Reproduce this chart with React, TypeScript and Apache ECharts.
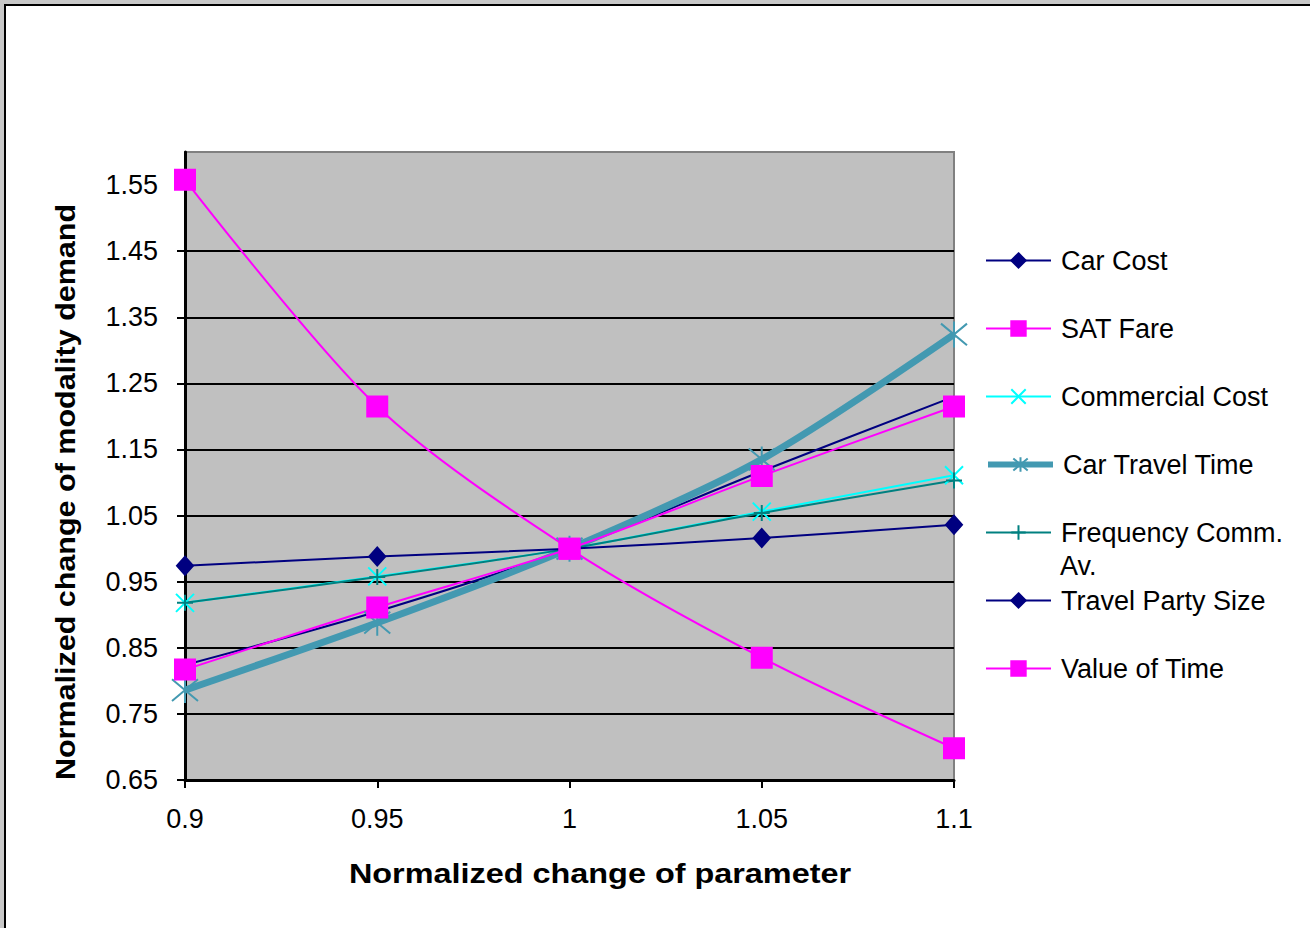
import React, { useEffect, useRef } from "react";
import * as echarts from "echarts";

// Parameter multipliers on the x axis
const params = ["0.9", "0.95", "1", "1.05", "1.1"];
// Y axis tick labels
const yTicks = [0.65, 0.75, 0.85, 0.95, 1.05, 1.15, 1.25, 1.35, 1.45, 1.55];

// Normalized demand for each sensitivity run
const carCost = [0.824, 0.905, 1.0, 1.117, 1.23];
const satFare = [1.558, 1.215, 1.0, 0.835, 0.698];
const commercialCost = [0.918, 0.958, 1.0, 1.056, 1.111];
const carTravelTime = [0.786, 0.888, 1.0, 1.135, 1.324];
const frequencyCommAv = [0.918, 0.957, 1.0, 1.054, 1.103];
const travelPartySize = [0.974, 0.988, 1.0, 1.016, 1.036];
const valueOfTime = [0.817, 0.911, 1.0, 1.11, 1.215];

const seriesNames = [
  "Car Cost",
  "SAT Fare",
  "Commercial Cost",
  "Car Travel Time",
  "Frequency Comm. Av.",
  "Travel Party Size",
  "Value of Time",
];

const FONT = "'Liberation Sans', Arial, sans-serif";
const X_SYMBOL = "path://M0 0L10 10M10 0L0 10";
const STAR_SYMBOL = "path://M0 0L10 10M10 0L0 10M5 -1L5 11";
const PLUS_SYMBOL = "path://M5 0L5 10M0 5L10 5";

export default function App() {
  const ref = useRef<HTMLDivElement>(null);

  useEffect(() => {
    if (!ref.current) return;
    const chart = echarts.init(ref.current, null, { renderer: "svg" });

    const line = (
      name: string,
      data: number[],
      color: string,
      symbol: string,
      symbolSize: number | number[],
      width: number,
      extra: any = {}
    ) => ({
      name,
      type: "line",
      data,
      smooth: 0.3,
      symbol,
      symbolSize,
      color,
      lineStyle: { color, width },
      itemStyle: { color, borderColor: color, borderWidth: 2 },
      emphasis: { disabled: true },
      ...extra,
    });

    const legendCenters = [260, 328, 396, 464, 532, 600, 668];
    const legends = seriesNames.map((n, i) => ({
      data: [{ name: n }],
      left: 985,
      top: legendCenters[i] - 13,
      padding: 0,
      orient: "vertical",
      itemWidth: 65,
      itemHeight: 18,
      selectedMode: false,
      formatter: (name: string) =>
        name === "Frequency Comm. Av." ? "Frequency Comm." : name,
      textStyle: {
        fontFamily: FONT,
        fontSize: 27,
        color: "#000",
        padding: [0, 0, 0, 5],
      },
      lineStyle: n === "Car Travel Time" ? { width: 6 } : { width: 2 },
    }));

    chart.setOption({
      animation: false,
      backgroundColor: "#fff",
      textStyle: { fontFamily: FONT },
      grid: {
        left: 185,
        right: 356,
        top: 152,
        bottom: 148,
        show: true,
        backgroundColor: "#c0c0c0",
        borderColor: "#808080",
        borderWidth: 2,
      },
      legend: legends,
      xAxis: {
        type: "category",
        data: params,
        boundaryGap: false,
        axisLine: { lineStyle: { color: "#000", width: 3 } },
        axisTick: { show: true, length: 8, lineStyle: { color: "#000", width: 2 } },
        axisLabel: { color: "#000", fontSize: 27, fontFamily: FONT, margin: 25 },
        splitLine: { show: false },
      },
      yAxis: {
        type: "value",
        min: 0.65,
        max: 1.6,
        interval: 0.1,
        axisLine: { show: true, lineStyle: { color: "#000", width: 3 } },
        axisTick: {
          show: true,
          length: 8,
          lineStyle: { color: "#000", width: 2 },
          customValues: yTicks,
        },
        axisLabel: {
          color: "#000",
          fontSize: 27,
          fontFamily: FONT,
          margin: 27,
          customValues: yTicks,
          formatter: (v: number) => v.toFixed(2),
        },
        splitLine: {
          show: true,
          showMinLine: false,
          showMaxLine: false,
          lineStyle: { color: "#000", width: 2 },
        },
      },
      series: [
        line("Car Cost", carCost, "#000080", "diamond", [16, 18], 2, { showSymbol: false }),
        line("SAT Fare", satFare, "#ff00ff", "rect", 20, 2),
        line("Commercial Cost", commercialCost, "#00ffff", X_SYMBOL, 18, 2),
        line("Car Travel Time", carTravelTime, "#4399b1", STAR_SYMBOL, 26, 7),
        line("Frequency Comm. Av.", frequencyCommAv, "#008080", PLUS_SYMBOL, 16, 2),
        line("Travel Party Size", travelPartySize, "#000080", "diamond", [16, 18], 2),
        line("Value of Time", valueOfTime, "#ff00ff", "rect", 20, 2),
      ],
      graphic: [
        { type: "rect", shape: { x: 0, y: 0, width: 1310, height: 4 }, style: { fill: "#c8c8c8" }, silent: true },
        { type: "rect", shape: { x: 0, y: 0, width: 4, height: 928 }, style: { fill: "#c8c8c8" }, silent: true },
        { type: "line", shape: { x1: 4, y1: 5, x2: 1310, y2: 5 }, style: { stroke: "#000", lineWidth: 2 }, silent: true },
        { type: "line", shape: { x1: 5, y1: 4, x2: 5, y2: 928 }, style: { stroke: "#000", lineWidth: 2 }, silent: true },
        {
          type: "text",
          x: 600,
          y: 873,
          scaleX: 1.2,
          style: {
            text: "Normalized change of parameter",
            fontFamily: FONT,
            fontWeight: "bold",
            fontSize: 27,
            fill: "#000",
            align: "center",
            verticalAlign: "middle",
          },
          silent: true,
        },
        {
          type: "text",
          x: 66,
          y: 492,
          rotation: Math.PI / 2,
          scaleX: 1.13,
          style: {
            text: "Normalized change of modality demand",
            fontFamily: FONT,
            fontWeight: "bold",
            fontSize: 27,
            fill: "#000",
            align: "center",
            verticalAlign: "middle",
          },
          silent: true,
        },
        {
          type: "text",
          x: 1060,
          y: 566,
          style: {
            text: "Av.",
            fontFamily: FONT,
            fontSize: 27,
            fill: "#000",
            align: "left",
            verticalAlign: "middle",
          },
          silent: true,
        },
      ],
    });

    return () => chart.dispose();
  }, []);

  return (
    <div
      ref={ref}
      style={{ position: "fixed", left: 0, top: 0, width: 1310, height: 928 }}
    />
  );
}
